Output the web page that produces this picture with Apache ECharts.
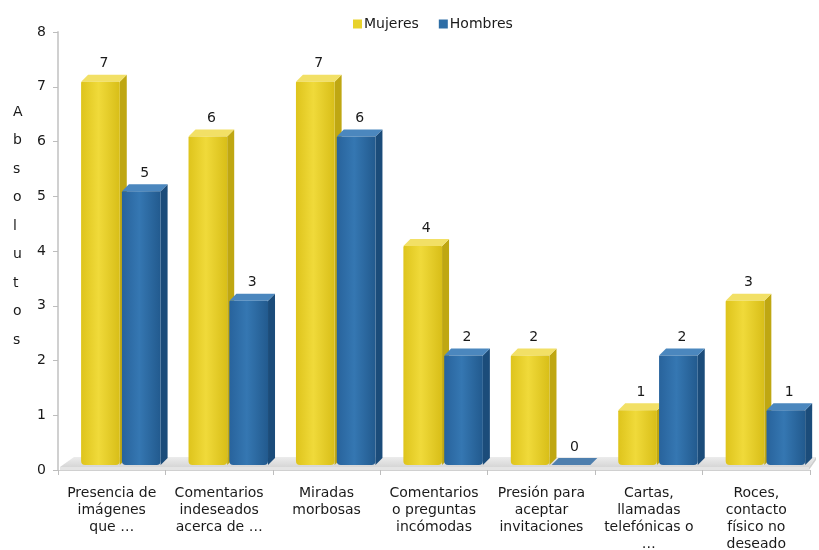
<!DOCTYPE html>
<html>
<head>
<meta charset="utf-8">
<script src="https://cdn.jsdelivr.net/npm/echarts@6/dist/echarts.min.js"></script>
<style>html,body{margin:0;padding:0;background:#fff}#c{width:819px;height:550px}</style>
</head>
<body>
<div id="c"></div>
<script>
const categories = [
  "Presencia de\nimágenes\nque …",
  "Comentarios\nindeseados\nacerca de …",
  "Miradas\nmorbosas",
  "Comentarios\no preguntas\nincómodas",
  "Presión para\naceptar\ninvitaciones",
  "Cartas,\nllamadas\ntelefónicas o\n…",
  "Roces,\ncontacto\nfísico no\ndeseado"
];
const mujeres = [7, 6, 7, 4, 2, 1, 3];
const hombres = [5, 3, 6, 2, 0, 2, 1];
const yTicks = [0, 1, 2, 3, 4, 5, 6, 7, 8];
const seriesNames = ["Mujeres", "Hombres"];
const yAxisTitle = "Absolutos";

const FONT = "DejaVu Sans";
const palettes = [
  {front: ['#DEC41C', '#F0DA3A', '#D8BE18'], side: '#BFA712', top: '#F2E066', main: '#E8D22A'},
  {front: ['#28639C', '#3577B2', '#225A8E'], side: '#1B4C7A', top: '#4B87BE', main: '#2E6EA6'}
];

function makeRender(si) {
  return function (params, api) {
    const ci = api.value(0), v = api.value(1);
    const base = api.coord([ci, 0]);
    const top = api.coord([ci, v]);
    const band = api.size([1, 0])[0];
    const bw = band * 0.36, gap = band * 0.02;
    const gc = base[0] + band * 0.085;
    const x0 = si === 0 ? gc - gap / 2 - bw : gc + gap / 2;
    const lift = 5, d = 7;
    const yb = base[1] - lift, yt = top[1] - lift;
    const p = palettes[si];
    const children = [
      {type: 'polygon', shape: {points: [[x0 + bw, yt], [x0 + bw + d, yt - d], [x0 + bw + d, yb - d], [x0 + bw, yb]]},
       style: {fill: p.side}},
      {type: 'polygon', shape: {points: [[x0, yt], [x0 + d, yt - d], [x0 + bw + d, yt - d], [x0 + bw, yt]]},
       style: {fill: v === 0 ? '#4E7FAE' : p.top}},
    ];
    if (yb - yt > 0.5) {
      children.push({type: 'rect', shape: {x: x0, y: yt, width: bw, height: yb - yt, r: [1, 1, 4, 4]},
        style: {fill: {type: 'linear', x: 0, y: 0, x2: 1, y2: 0,
          colorStops: [{offset: 0, color: p.front[0]}, {offset: 0.45, color: p.front[1]}, {offset: 1, color: p.front[2]}]}}});
    }
    children.push({type: 'text', style: {text: String(v), x: x0 + bw / 2 + d / 2, y: yt - d - 4,
      align: 'center', verticalAlign: 'bottom', fill: '#1a1a1a', font: '14px "' + FONT + '"'}});
    return {type: 'group', children: children};
  };
}

function renderFloor(params, api) {
  const cs = params.coordSys;
  const L = cs.x, R = cs.x + cs.width, B = cs.y + cs.height;
  return {type: 'group', silent: true, children: [
    {type: 'polygon', shape: {points: [[L + 2, B - 3], [L + 16, B - 13], [R + 6, B - 13], [R - 1, B - 3]]},
     style: {fill: {type: 'linear', x: 0, y: 0, x2: 0, y2: 1, colorStops: [{offset: 0, color: '#ececec'}, {offset: 1, color: '#d6d6d6'}]}}},
    {type: 'polygon', shape: {points: [[L + 2, B - 3], [R - 1, B - 3], [R - 1, B], [L + 2, B]]},
     style: {fill: '#e4e4e4'}},
    {type: 'polygon', shape: {points: [[R - 1, B - 3], [R + 6, B - 13], [R + 6, B - 10], [R - 1, B]]},
     style: {fill: '#cfcfcf'}}
  ]};
}

const chart = echarts.init(document.getElementById('c'));
chart.setOption({
  animation: false,
  backgroundColor: '#fff',
  textStyle: {fontFamily: FONT},
  legend: {
    data: seriesNames, top: 12, left: 348, itemWidth: 9, itemHeight: 9, itemGap: 20,
    icon: 'rect', textStyle: {fontSize: 14, color: '#1a1a1a', fontFamily: FONT, padding: [0, 0, 0, -3]}
  },
  grid: {left: 58, right: 9, top: 32, bottom: 80, containLabel: false, outerBoundsMode: 'none'},
  xAxis: {
    type: 'category', data: categories, boundaryGap: true,
    axisLine: {lineStyle: {color: '#d0d0d0', width: 1}},
    axisTick: {show: true, interval: 0, length: 5, lineStyle: {color: '#bdbdbd'}},
    axisLabel: {interval: 0, margin: 15, lineHeight: 17, fontSize: 14, color: '#1a1a1a', fontFamily: FONT}
  },
  yAxis: {
    type: 'value', min: yTicks[0], max: yTicks[yTicks.length - 1], interval: 1,
    axisLine: {show: true, lineStyle: {color: '#d0d0d0', width: 2}},
    axisTick: {show: true, length: 5, lineStyle: {color: '#bdbdbd'}},
    splitLine: {show: false},
    axisLabel: {fontSize: 14, color: '#1a1a1a', margin: 12, fontFamily: FONT}
  },
  graphic: [{
    type: 'text', left: 13, top: 98,
    style: {text: yAxisTitle.split('').join('\n'), lineHeight: 28.5, align: 'center',
      font: '14px "' + FONT + '"', fill: '#1a1a1a'}
  }],
  series: [
    {type: 'custom', name: '_floor', renderItem: renderFloor, data: [[0, 0]], encode: {x: 0, y: 1}, z: 1, silent: true},
    {type: 'custom', name: seriesNames[0], renderItem: makeRender(0), itemStyle: {color: palettes[0].main},
     data: mujeres.map((v, i) => [i, v]), encode: {x: 0, y: 1}, z: 2},
    {type: 'custom', name: seriesNames[1], renderItem: makeRender(1), itemStyle: {color: palettes[1].main},
     data: hombres.map((v, i) => [i, v]), encode: {x: 0, y: 1}, z: 3}
  ]
});
</script>
</body>
</html>
